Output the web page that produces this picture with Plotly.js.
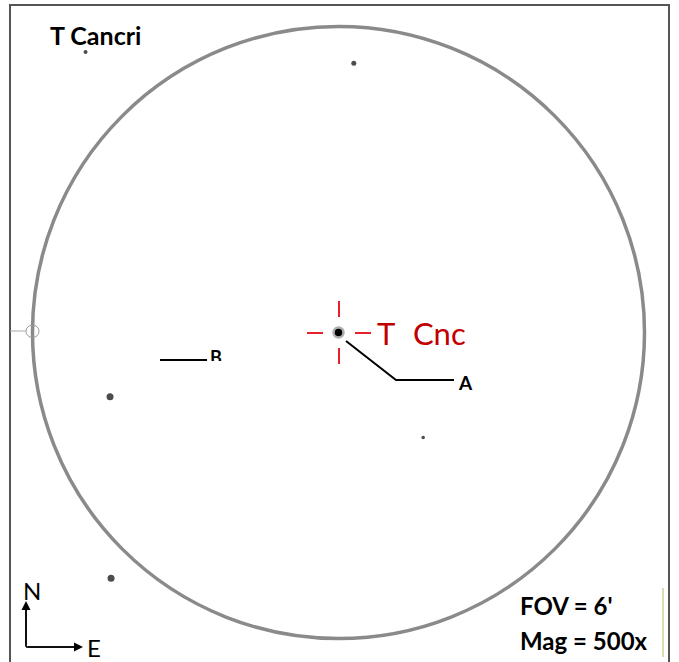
<!DOCTYPE html>
<html>
<head>
<meta charset="utf-8">
<script src="https://cdn.plot.ly/plotly-3.0.1.min.js"></script>
<style>html,body{margin:0;padding:0;background:#fff;}#chart{width:679px;height:662px;}</style>
</head>
<body>
<div id="chart"></div>
<script>
// Field stars: offsets from T Cnc in arcminutes (x: east to the right, y: north up)
const starNames = ["T Cnc", "s1", "s2", "s3", "s4", "s5"];
const starX = [0, -2.48, 0.15, -2.24, 0.83, -2.23];
const starY = [0, 2.75, 2.64, -0.63, -1.03, -2.41];
const starSize = [10, 4, 5, 7, 3.5, 7];
const fovArcmin = 6;
const titleText = "T Cancri";
const fovText = "FOV = 6'";
const magText = "Mag = 500x";

// pixel helpers (layout only)
const W = 679, H = 662, CX = 338.5, CY = 332.5, S = 102;
const X = px => (px - CX) / S;
const Y = py => (CY - py) / S;
const R = fovArcmin / 2;

const traces = [
  {
    type: "scatter", mode: "markers", x: starX.slice(1), y: starY.slice(1),
    marker: {color: "#000", size: starSize.slice(1), line: {width: 0}}, hoverinfo: "skip", showlegend: false
  },
  {
    type: "scatter", mode: "markers", x: [starX[0]], y: [starY[0]],
    marker: {color: "#000", size: starSize[0], line: {color: "#b0b0b0", width: 2.5}},
    hoverinfo: "skip", showlegend: false
  },
  {
    type: "scatter", mode: "text", x: [X(210)], y: [Y(359)], text: ["<b>B</b>"],
    textposition: "middle right", textfont: {family: "Lato", size: 18, color: "#000"},
    hoverinfo: "skip", showlegend: false
  }
];

const red = "#e8202a";
const shapes = [
  // frame
  {type: "rect", xref: "x", yref: "y", x0: X(10), x1: X(669), y0: Y(5), y1: Y(680), line: {color: "#555", width: 2}},
  // FOV circle
  {type: "circle", xref: "x", yref: "y", x0: -R, x1: R, y0: -R, y1: R, line: {color: "#8a8a8a", width: 3.5}},
  // small marker circle at left
  {type: "line", xref: "x", yref: "y", x0: X(10), x1: X(26), y0: Y(331), y1: Y(331), line: {color: "#aaa", width: 1}},
  {type: "circle", xref: "x", yref: "y", x0: X(26), x1: X(39), y0: Y(325), y1: Y(337.5), line: {color: "#999", width: 1}},
  // crosshair
  {type: "line", xref: "x", yref: "y", x0: X(307), x1: X(323), y0: Y(333), y1: Y(333), line: {color: red, width: 2}},
  {type: "line", xref: "x", yref: "y", x0: X(355), x1: X(371), y0: Y(333), y1: Y(333), line: {color: red, width: 2}},
  {type: "line", xref: "x", yref: "y", x0: X(339), x1: X(339), y0: Y(301), y1: Y(317), line: {color: red, width: 2}},
  {type: "line", xref: "x", yref: "y", x0: X(339), x1: X(339), y0: Y(348), y1: Y(364), line: {color: red, width: 2}},
  // leader A
  {type: "path", xref: "x", yref: "y", path: `M ${X(346)} ${Y(341)} L ${X(396)} ${Y(380)} L ${X(454)} ${Y(380)}`, line: {color: "#000", width: 2}},
  // white mask cutting B
  {type: "rect", xref: "x", yref: "y", layer: "above", x0: X(207), x1: X(230), y0: Y(361), y1: Y(372), fillcolor: "#fff", line: {width: 0}},
  // leader B
  {type: "line", xref: "x", yref: "y", layer: "above", x0: X(160), x1: X(207), y0: Y(360), y1: Y(360), line: {color: "#000", width: 2}},
  // compass lines
  {type: "line", xref: "x", yref: "y", x0: X(26), x1: X(26), y0: Y(606), y1: Y(647), line: {color: "#000", width: 1.5}},
  {type: "line", xref: "x", yref: "y", x0: X(26), x1: X(76), y0: Y(647), y1: Y(647), line: {color: "#000", width: 1.5}},
  // olive line near bottom right
  {type: "line", xref: "x", yref: "y", x0: X(663), x1: X(663), y0: Y(588), y1: Y(657), line: {color: "#b8b860", width: 1}},
  {type: "line", xref: "x", yref: "y", x0: X(38), x1: X(38), y0: Y(585), y1: Y(598), line: {color: "#e8e070", width: 1}}
];

function txt(t, px, py, size, color, bold, extra) {
  return Object.assign({
    xref: "x", yref: "y", x: X(px), y: Y(py), text: bold ? "<b>" + t + "</b>" : t,
    showarrow: false, xanchor: "left", yanchor: "middle",
    font: {family: "Lato", size: size, color: color}, borderpad: 0
  }, extra || {});
}

const annotations = [
  txt(titleText, 49, 35, 25, "#000", true),
  txt("T", 376, 333, 31, "#c00000", false),
  txt("Cnc", 412, 333, 31, "#c00000", false),
  txt("A", 457, 382, 19, "#000", true),
  txt("N", 22, 590, 24, "#000", false),
  txt("E", 86, 647, 24, "#000", false),
  txt(fovText, 519, 605, 24, "#000", true),
  txt(magText, 519, 640, 24, "#000", true),
  // arrowheads
  {xref: "x", yref: "y", x: X(26), y: Y(601), ax: 0, ay: 46, text: "", showarrow: true,
   arrowhead: 2, arrowsize: 1.2, arrowwidth: 1.5, arrowcolor: "#000", standoff: 0},
  {xref: "x", yref: "y", x: X(83), y: Y(647), ax: -57, ay: 0, text: "", showarrow: true,
   arrowhead: 2, arrowsize: 1.2, arrowwidth: 1.5, arrowcolor: "#000", standoff: 0}
];

const layout = {
  width: W, height: H, margin: {l: 0, r: 0, t: 0, b: 0},
  paper_bgcolor: "#fff", plot_bgcolor: "#fff",
  xaxis: {range: [X(0), X(W)], visible: false, fixedrange: true},
  yaxis: {range: [Y(H), Y(0)], visible: false, fixedrange: true},
  shapes: shapes, annotations: annotations, showlegend: false
};

Plotly.newPlot("chart", traces, layout, {displayModeBar: false, staticPlot: true});
</script>
</body>
</html>
